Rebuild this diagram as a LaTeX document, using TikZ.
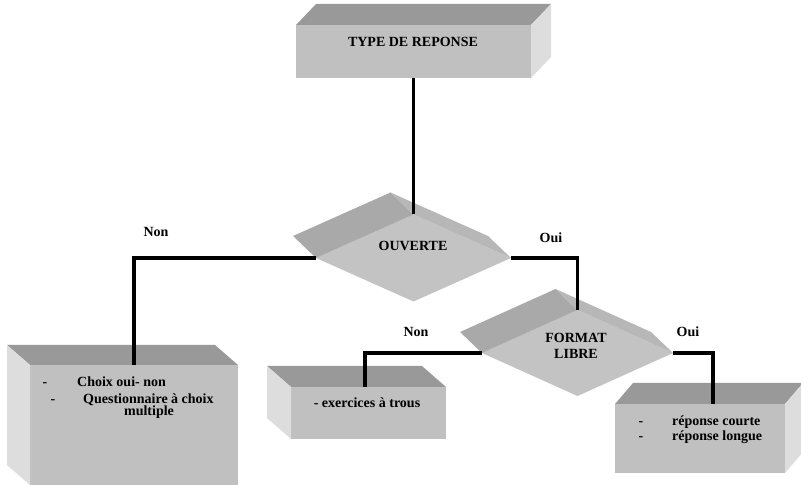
\documentclass[tikz,border=0pt]{standalone}
\usepackage{fontspec}
\setmainfont{Liberation Serif}
\usetikzlibrary{shapes.geometric,calc}
\definecolor{topface}{HTML}{999999}
\definecolor{frontface}{HTML}{C0C0C0}
\definecolor{sideface}{HTML}{DDDDDD}
\definecolor{dleft}{HTML}{A9A9A9}
\definecolor{dright}{HTML}{B7B7B7}
\definecolor{dfront}{HTML}{C3C3C3}
\begin{document}
\begin{tikzpicture}[x=1pt,y=-1pt,
  frontbox/.style={rectangle, fill=frontface, draw=none, inner sep=0pt, outer sep=0pt},
  dfr/.style={diamond, fill=dfront, draw=none, inner sep=0pt, outer sep=0pt, aspect=2.2},
  txt/.style={font=\bfseries\fontsize{14}{16}\selectfont, inner sep=0pt, anchor=base},
  conn/.style={line width=3.2pt, line join=miter, draw=black}]
\useasboundingbox (0,0) rectangle (801,486);
\clip (0,0) rectangle (801,486);

% top box
\node[frontbox, minimum width=235pt, minimum height=53pt] (top) at (413.5,51.5) {};
\fill[topface] (top.north west) -- ++(20,-21) -- ($(top.north east)+(20,-21)$) -- (top.north east) -- cycle;
\fill[sideface] (top.north east) -- ++(20,-21) -- ($(top.south east)+(20,-21)$) -- (top.south east) -- cycle;

% diamond OUVERTE
\node[dfr, minimum width=195pt, minimum height=87pt] (ouv) at (413.5,258) {};
\fill[dleft] (ouv.west) -- ++(-23,-22) -- ($(ouv.north)+(-23,-22)$) -- (ouv.north) -- cycle;
\fill[dright] (ouv.north) -- ++(-23,-22) -- ($(ouv.east)+(-23,-22)$) -- (ouv.east) -- cycle;

% diamond FORMAT LIBRE
\node[dfr, minimum width=191pt, minimum height=86pt] (fl) at (577.5,353) {};
\fill[dleft] (fl.west) -- ++(-22,-21) -- ($(fl.north)+(-22,-21)$) -- (fl.north) -- cycle;
\fill[dright] (fl.north) -- ++(-22,-21) -- ($(fl.east)+(-22,-21)$) -- (fl.east) -- cycle;

% left box
\node[frontbox, minimum width=208pt, minimum height=120pt] (lbox) at (134,425) {};
\fill[topface] (lbox.north west) -- ++(-23,-20) -- ($(lbox.north east)+(-23,-20)$) -- (lbox.north east) -- cycle;
\fill[sideface] (lbox.north west) -- ++(-23,-20) -- ($(lbox.south west)+(-23,-20)$) -- (lbox.south west) -- cycle;

% middle box
\node[frontbox, minimum width=155pt, minimum height=52pt] (mbox) at (368.5,413) {};
\fill[topface] (mbox.north west) -- ++(-24,-21) -- ($(mbox.north east)+(-24,-21)$) -- (mbox.north east) -- cycle;
\fill[sideface] (mbox.north west) -- ++(-24,-21) -- ($(mbox.south west)+(-24,-21)$) -- (mbox.south west) -- cycle;

% right box
\node[frontbox, minimum width=170pt, minimum height=69pt] (rbox) at (700,438.5) {};
\fill[topface] (rbox.north west) -- ++(18,-21) -- ($(rbox.north east)+(18,-21)$) -- (rbox.north east) -- cycle;
\fill[sideface] (rbox.north east) -- ++(18,-21) -- ($(rbox.south east)+(18,-21)$) -- (rbox.south east) -- cycle;

% connector targets
\coordinate (mtarget) at ($(mbox.north)+(-3.5,0)$);
\coordinate (rtarget) at ($(rbox.north)+(13,0)$);

% connectors
\draw[conn] (top.south) -- (ouv.north);
\draw[conn] (ouv.west) -| (lbox.north);
\draw[conn] (ouv.east) -| (fl.north);
\draw[conn] (fl.west) -| (mtarget);
\draw[conn] (fl.east) -| (rtarget);

% texts
\node[txt] (toptxt) at (413,47) {TYPE DE REPONSE};
\node[txt] (ouvtxt) at (413,251) {OUVERTE};
\node[txt] (fltxta) at (576,343) {FORMAT};
\node[txt] (fltxtb) at (576,359) {LIBRE};

\node[txt] (non1) at (156,237) {Non};
\node[txt] (oui1) at (551,243) {Oui};
\node[txt] (non2) at (416,337) {Non};
\node[txt] (oui2) at (688,337) {Oui};

\node[txt] (ld1) at (45,387) {-};
\node[txt, anchor=base west] (lt1) at (77,387) {Choix oui- non};
\node[txt] (ld2) at (53,403) {-};
\node[txt, anchor=base west] (lt2) at (83,403) {Questionnaire à choix};
\node[txt] (lt3) at (149,416) {multiple};

\node[txt] (mt1) at (367,407) {- exercices à trous};

\node[txt] (rd1) at (641,425) {-};
\node[txt, anchor=base west] (rt1) at (672,425) {réponse courte};
\node[txt] (rd2) at (641,440) {-};
\node[txt, anchor=base west] (rt2) at (672,440) {réponse longue};
\end{tikzpicture}
\end{document}
